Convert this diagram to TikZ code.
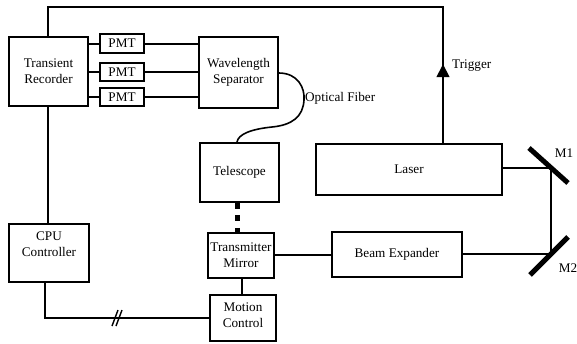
\documentclass[tikz,border=0pt]{standalone}
\usepackage{fontspec}
\setmainfont{Liberation Serif}
\newfontfamily\tnr{Liberation Serif}
\usetikzlibrary{arrows.meta}
\begin{document}
\begin{tikzpicture}[x=1pt,y=-1pt,
  box/.style={draw, line width=1.6pt, inner sep=0pt, align=center, font=\tnr\fontsize{13.2}{15.8}\selectfont},
  conn/.style={line width=1.6pt},
  thinline/.style={line width=1.2pt},
  mirror/.style={line width=5pt},
  lbl/.style={font=\tnr\fontsize{13.2}{15.8}\selectfont, inner sep=0pt}]
\useasboundingbox[fill=white] (0,0) rectangle (577,343);

% boxes
\node[box, minimum width=79pt, minimum height=69pt] (TR) at (48.5,71.5) {Transient\\Recorder};
\node[box, minimum width=44pt, minimum height=19pt] (P1) at (122,43.5) {PMT};
\node[box, minimum width=44pt, minimum height=18pt] (P2) at (122,72) {PMT};
\node[box, minimum width=44pt, minimum height=18pt] (P3) at (122,97) {PMT};
\node[box, minimum width=79pt, minimum height=71pt] (WS) at (238.5,72.5) {Wavelength\\Separator};
\node[box, minimum width=79pt, minimum height=59pt] (TS) at (239.5,172.5) {Telescope};
\node[box, minimum width=186pt, minimum height=51pt] (LA) at (409,169.5) {Laser};
\node[box, minimum width=130pt, minimum height=45pt] (BE) at (397,254.5) {Beam Expander};
\node[box, minimum width=66pt, minimum height=45pt] (TM) at (241,255.5) {Transmitter\\Mirror};
\node[box, minimum width=66pt, minimum height=46pt] (MC) at (243,318) {Motion\\Control\rule[-6pt]{0pt}{0pt}};
\node[box, minimum width=80pt, minimum height=58pt] (CPU) at (49,253) {CPU\\Controller\rule[-17pt]{0pt}{0pt}};

% labels
\node[lbl, anchor=west] (trg) at (452,66) {Trigger};
\node[lbl, anchor=west] (of) at (305,98) {Optical Fiber};
\node[lbl] (m1l) at (564,153) {M1};
\node[lbl] (m2l) at (568,268) {M2};

% coordinates
\coordinate (trig) at (443,7);
\coordinate (lv) at (48,0);
\coordinate (m1) at (551,168);
\coordinate (m2) at (551,254);

% PMT connections
\foreach \p/\y in {P1/44, P2/72, P3/97}{
  \draw[conn] (TR.east |- 0,\y) -- (\p.west |- 0,\y);
  \draw[conn] (\p.east |- 0,\y) -- (WS.west |- 0,\y);
}

% trigger loop
\draw[conn] (TR.north -| lv) |- (trig) -- (LA.north -| trig);
\draw[conn, -{Triangle[length=13pt,width=13pt]}] (LA.north -| trig) -- ++(0,-79);

% recorder to CPU
\draw[conn] (TR.south -| lv) -- (CPU.north -| lv);

% CPU to motion control
\coordinate (cpub) at (45,318);
\draw[conn] (CPU.south -| cpub) -- (cpub) -- (MC.west |- cpub);
\draw[line width=1.4pt] (112,326) -- (118,310);
\draw[line width=1.4pt] (116,326) -- (122,310);

% TM to MC
\draw[conn] (TM.south -| 242,0) -- (MC.north -| 242,0);

% telescope to TM dotted
\draw[line width=5pt, dash pattern=on 6pt off 6.5pt] (TS.south -| 237,0) -- (TM.north -| 237,0);

% optical fiber
\draw[conn] (WS.east |- 0,73) .. controls (298,73) and (305,88) .. (304,100)
  .. controls (303,117) and (292,125) .. (272,127)
  .. controls (252,129) and (238,134) .. (TS.north -| 237,0);

% beam path
\draw[thinline] (LA.east |- m1) -- (m1) -- (m2) -- (BE.east |- m2);
\draw[conn] (TM.east |- 0,255) -- (BE.west |- 0,255);

% mirrors
\draw[mirror] (529,148) -- (568,183);
\draw[mirror] (530,275) -- (568,237);
\end{tikzpicture}
\end{document}
